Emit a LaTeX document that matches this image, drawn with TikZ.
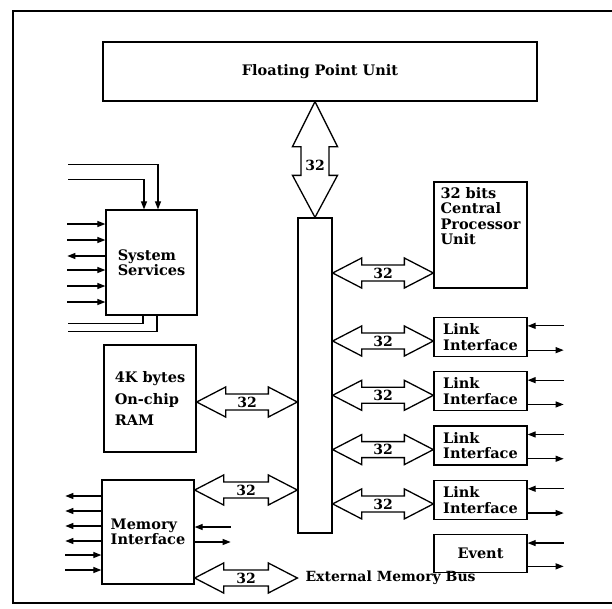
\documentclass[tikz,border=0pt]{standalone}
\usepackage{fontspec}
\setmainfont{DejaVu Serif}
\usepackage{tikz}
\usetikzlibrary{positioning,arrows.meta,calc}
\tikzset{
    blk/.style={draw,line width=1.3pt,inner sep=0pt,minimum width=93pt,align=left,font=\fontsize{14.5}{15.5}\selectfont\bfseries},
    bus/.style={draw,line width=1.3pt,line join=miter},
    sig/.style={-{Triangle[length=8pt,width=6pt]},line width=1.2pt},
    wire/.style={line width=1.2pt},
    lbl/.style={font=\fontsize{14}{15}\selectfont\bfseries,inner sep=0pt},
}
% hollow 32-bit bus between two points: left tip, right tip, label
\newcommand{\hbus}[3]{%
    \path (#1) coordinate (hbl) (#2) coordinate (hbr);
    \draw[bus] (hbl) -- ++(29,-15) -- ++(0,7) -- ($(hbr)+(-29,-8)$) -- ++(0,-7) -- (hbr)
        -- ++(-29,15) -- ++(0,-7) -- ($(hbl)+(29,8)$) -- ++(0,7) -- cycle;
    \node[lbl] at ($(hbl)!0.5!(hbr)$) {#3};
}

\begin{document}
\begin{tikzpicture}[x=1pt,y=-1pt]
\useasboundingbox (0,0) rectangle (612,608);
% outer frame, open on the right
\draw[wire] (612,11) -- (13,11) -- (13,603) -- (612,603);

\node[blk,minimum width=434pt,minimum height=59pt,align=center] (fpu) at (320,71.5) {Floating Point Unit};
\node[draw,line width=1.3pt,minimum width=34pt,minimum height=315pt] (bar) at (315,375.5) {};

% right column
\node[blk,minimum height=106pt] (cpu) at (480.5,235) {\parbox[c][96pt][t]{80pt}{32 bits\\Central\\Processor\\Unit}};
\node[blk,minimum height=39pt] (l1) at (480.5,337) {Link\\Interface};
\node[blk,minimum height=39pt,below=14pt of l1] (l2) {Link\\Interface};
\node[blk,minimum height=39pt,below=14pt of l2] (l3) {Link\\Interface};
\node[blk,minimum height=39pt,below=14pt of l3] (l4) {Link\\Interface};
\node[blk,minimum height=38pt,below=14pt of l4,align=center] (ev) {Event};

% left column
\node[blk,minimum width=91pt,minimum height=105pt] (ss) at (151.5,262.5) {System\\Services};
\node[blk,minimum width=92pt,minimum height=107pt] (ram) at (150,398.5) {4K bytes\\[6pt]On-chip\\[6pt]RAM};
\node[blk,minimum width=92pt,minimum height=104pt] (mi) at (148,532) {Memory\\Interface};

% buses
\draw[bus] (bar.north |- fpu.south) -- ++(-22.5,45) -- ++(8.5,0) -- ($(bar.north)+(-14,-42)$) -- ++(-8.5,0) -- (bar.north)
    -- ++(22.5,-42) -- ++(-8.5,0) -- ($(bar.north |- fpu.south)+(14,45)$) -- ++(8.5,0) -- cycle;
\node[lbl] (fpubus) at ($(bar.north |- fpu.south)!0.55!(bar.north)$) {32};

\coordinate (cpubus) at ([yshift=-38pt]cpu.west);
\hbus{bar.east |- cpubus}{cpubus}{32}
\foreach \n in {l1,l2,l3,l4}{
    \coordinate (\n-bus) at ([yshift=-4pt]\n.west);
    \hbus{bar.east |- \n-bus}{\n-bus}{32}
}
\coordinate (rambus) at ([yshift=-3.5pt]ram.east);
\hbus{rambus}{bar.west |- rambus}{32}
\coordinate (mibus) at ([yshift=42pt]mi.east);
\hbus{mibus}{bar.west |- mibus}{32}
\coordinate (extbus) at ([yshift=-46pt]mi.east);
\coordinate (exttip) at (bar.west |- extbus);
\hbus{extbus}{exttip}{32}
\node[lbl,anchor=west] (ext) at ([xshift=8pt]exttip) {External Memory Bus};

% system services signals
\draw[sig] ([xshift=-83.5pt,yshift=45pt]ss.north) -| ([xshift=6.5pt]ss.north);
\draw[sig] ([xshift=-83.5pt,yshift=30pt]ss.north) -| ([xshift=-7.5pt]ss.north);
\foreach \dy in {38.5,22.5,-7.5,-23.5,-39.5}
    \draw[sig] ([xshift=-38pt,yshift=\dy pt]ss.west) -- ([yshift=\dy pt]ss.west);
\draw[sig] ([yshift=6.5pt]ss.west) -- ++(-38,0);
\draw[wire] ([xshift=-8.5pt]ss.south) |- ([xshift=-83.5pt,yshift=-8pt]ss.south);
\draw[wire] ([xshift=5.5pt]ss.south) |- ([xshift=-83.5pt,yshift=-16pt]ss.south);

% memory interface signals
\foreach \dy in {36,21,6,-9}
    \draw[sig] ([yshift=\dy pt]mi.west) -- ++(-36,0);
\foreach \dy in {-23,-38}
    \draw[sig] ([xshift=-36pt,yshift=\dy pt]mi.west) -- ([yshift=\dy pt]mi.west);
\draw[sig] ([xshift=36pt,yshift=5pt]mi.east) -- ([yshift=5pt]mi.east);
\draw[sig] ([yshift=-10pt]mi.east) -- ++(36,0);

% link and event lines
\foreach \n in {l1,l2,l3,l4,ev}{
    \draw[sig] ([xshift=36pt,yshift=-9pt]\n.north east) -- ([yshift=-9pt]\n.north east);
    \draw[sig] ([yshift=7pt]\n.south east) -- ++(36,0);
}
\end{tikzpicture}
\end{document}
